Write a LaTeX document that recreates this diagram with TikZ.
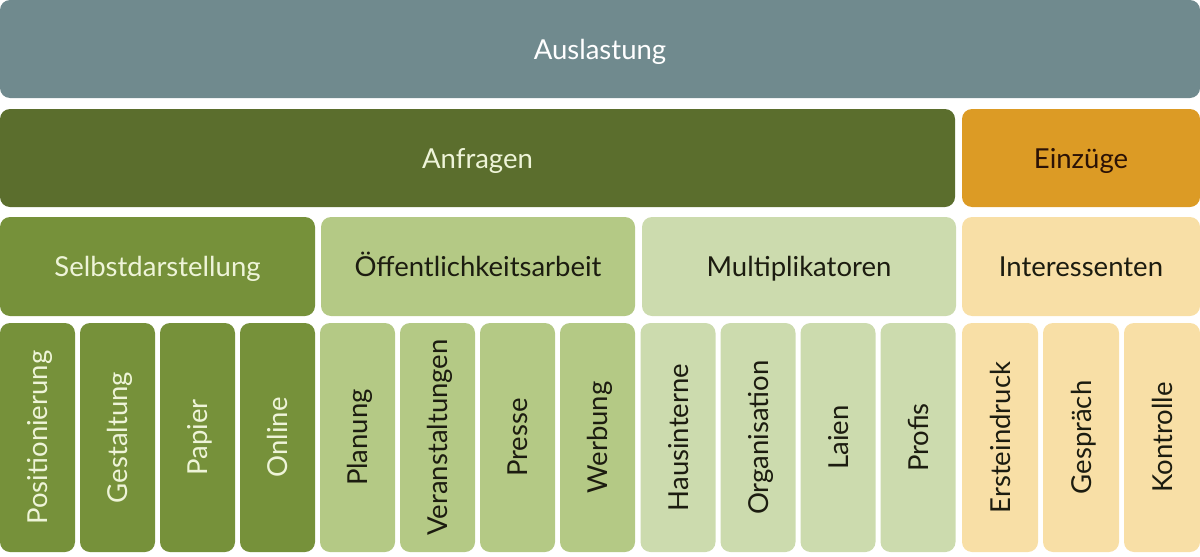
\documentclass[tikz,border=0pt]{standalone}
\usepackage{fontspec}
\setmainfont{Lato}
\definecolor{slate}{HTML}{708A8E}
\definecolor{olive}{HTML}{5B6E2D}
\definecolor{amber}{HTML}{DC9B25}
\definecolor{midgreen}{HTML}{76913A}
\definecolor{lightgreen}{HTML}{B4C985}
\definecolor{palegreen}{HTML}{CCDBAE}
\definecolor{cream}{HTML}{F8DFA6}
\definecolor{darktext}{HTML}{1C1C10}
\definecolor{browntext}{HTML}{2B1206}
\definecolor{paletext}{HTML}{EEF4D8}
\begin{document}
\begin{tikzpicture}
[x=1pt,y=-1pt,every node/.style={rounded corners=10pt,inner sep=0pt,outer sep=0pt,text height=20pt,text depth=0pt,font=\fontsize{27.5}{30}\selectfont},
 wide/.style={minimum height=98pt},
 mid/.style={minimum height=99pt},
 tall/.style={rotate=90,minimum width=229pt,minimum height=75pt}]
   \useasboundingbox (0,0) rectangle (1200,557);
   % top rows
   \node[wide,fill=slate,text=white,minimum width=1200pt] (aus) at (600,49) {Auslastung};
   \node[wide,fill=olive,text=paletext,minimum width=955pt] (anf) at (477.5,158) {Anfragen};
   \node[wide,fill=amber,text=browntext,minimum width=238pt] (ein) at (1081,158) {Einzüge};
   \node[mid,fill=midgreen,text=paletext,minimum width=315pt] (sel) at (157.5,266.5) {Selbstdarstellung};
   \node[mid,fill=lightgreen,text=darktext,minimum width=314pt] (oef) at (478,266.5) {Öffentlichkeitsarbeit};
   \node[mid,fill=palegreen,text=darktext,minimum width=314pt] (mul) at (799,266.5) {Multiplikatoren};
   \node[mid,fill=cream,text=darktext,minimum width=238pt] (int) at (1081,266.5) {Interessenten};
   % bottom row
   \node[tall,fill=midgreen,text=paletext] (s1) at (37.5,437.5) {Positionierung};
   \node[tall,fill=midgreen,text=paletext] (s2) at (117.5,437.5) {Gestaltung};
   \node[tall,fill=midgreen,text=paletext] (s3) at (197.5,437.5) {Papier};
   \node[tall,fill=midgreen,text=paletext] (s4) at (277.5,437.5) {Online};
   \node[tall,fill=lightgreen,text=darktext] (o1) at (357.5,437.5) {Planung};
   \node[tall,fill=lightgreen,text=darktext] (o2) at (437.5,437.5) {Veranstaltungen};
   \node[tall,fill=lightgreen,text=darktext] (o3) at (517.5,437.5) {Presse};
   \node[tall,fill=lightgreen,text=darktext] (o4) at (597.5,437.5) {Werbung};
   \node[tall,fill=palegreen,text=darktext] (m1) at (678,437.5) {Hausinterne};
   \node[tall,fill=palegreen,text=darktext] (m2) at (758,437.5) {Organisation};
   \node[tall,fill=palegreen,text=darktext] (m3) at (838,437.5) {Laien};
   \node[tall,fill=palegreen,text=darktext] (m4) at (918,437.5) {Profis};
   \node[tall,fill=cream,text=darktext,minimum height=76pt] (i1) at (1000,437.5) {Ersteindruck};
   \node[tall,fill=cream,text=darktext,minimum height=76pt] (i2) at (1081,437.5) {Gespräch};
   \node[tall,fill=cream,text=darktext,minimum height=76pt] (i3) at (1162,437.5) {Kontrolle};
  \end{tikzpicture}
\end{document}
